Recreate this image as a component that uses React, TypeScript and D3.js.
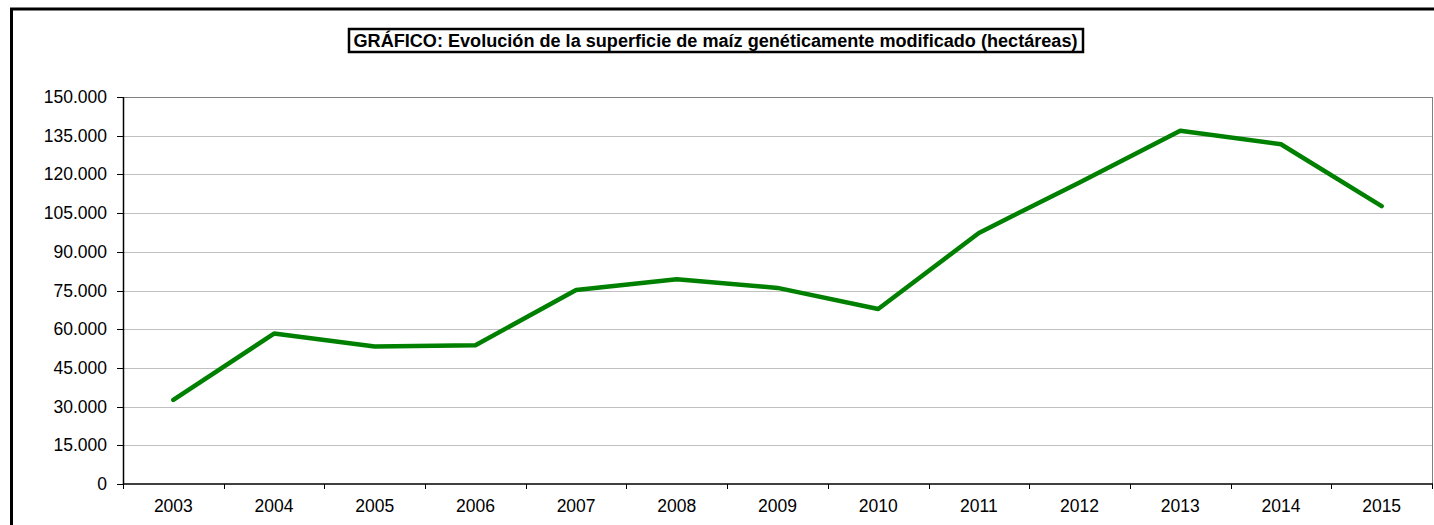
import React from 'react';
import { scaleBand, scaleLinear, line } from 'd3';

const years = ['2003', '2004', '2005', '2006', '2007', '2008', '2009', '2010', '2011', '2012', '2013', '2014', '2015'];
const hectares = [32600, 58300, 53300, 53800, 75200, 79400, 76000, 67800, 97300, 116900, 136900, 131700, 107700];
const yTicks = [0, 15000, 30000, 45000, 60000, 75000, 90000, 105000, 120000, 135000, 150000];

const titleText = 'GRÁFICO: Evolución de la superficie de maíz genéticamente modificado (hectáreas)';

const dims = {
  width: 1434,
  height: 525,
  left: 123,
  right: 1432,
  top: 97,
  bottom: 484
};

const fmt = (v: number) => (v === 0 ? '0' : (v / 1000).toFixed(0) + '.000');

export default function App() {
  const { width, height, left, right, top, bottom } = dims;

  const x = scaleBand<string>()
    .domain(years)
    .range([left, right]);

  const y = scaleLinear()
    .domain([0, 150000])
    .range([bottom, top]);

  const path = line<number>()
    .x((_, i) => (x(years[i]) as number) + x.bandwidth() / 2)
    .y(d => y(d))(hectares);

  const font = 'Liberation Sans, Arial, sans-serif';

  return (
    <svg width={width} height={height} style={{ position: 'absolute', left: 0, top: 0 }} fontFamily={font}>
      <rect x={0} y={0} width={width} height={height} fill="#fff" />
      {/* outer frame */}
      <rect x={11.5} y={9} width={width + 20} height={height + 20} fill="none" stroke="#000" strokeWidth={3} />

      {/* title */}
      <rect x={349} y={29} width={734} height={23} fill="#fff" stroke="#000" strokeWidth={2.5} />
      <text x={715.5} y={46.5} textAnchor="middle" fontSize={18} fontWeight="bold" fill="#000" textLength={724} lengthAdjust="spacingAndGlyphs">{titleText}</text>

      {/* gridlines */}
      {yTicks.slice(1, -1).map(t => (
        <line key={t} x1={left} x2={right} y1={Math.round(y(t)) + 0.5} y2={Math.round(y(t)) + 0.5} stroke="#c0c0c0" strokeWidth={1} />
      ))}

      {/* plot frame */}
      <line x1={left} x2={right} y1={top + 0.5} y2={top + 0.5} stroke="#808080" />
      <line x1={right + 0.5} x2={right + 0.5} y1={top} y2={bottom} stroke="#808080" />
      <line x1={left + 0.5} x2={left + 0.5} y1={top} y2={bottom} stroke="#000" strokeWidth={1.5} />
      <line x1={left} x2={right + 1} y1={bottom} y2={bottom} stroke="#000" strokeWidth={1.5} />

      {/* y axis */}
      {yTicks.map(t => (
        <g key={t}>
          <line x1={left - 6} x2={left} y1={Math.round(y(t)) + 0.5} y2={Math.round(y(t)) + 0.5} stroke="#000" />
          <text x={107} y={y(t) + 6} textAnchor="end" fontSize={17.5} fill="#000">{fmt(t)}</text>
        </g>
      ))}

      {/* x axis */}
      {years.map(yr => (
        <text key={yr} x={(x(yr) as number) + x.bandwidth() / 2} y={512} textAnchor="middle" fontSize={17.5} fill="#000">{yr}</text>
      ))}
      {years.concat(['end']).map((yr, i) => {
        const px = Math.round(left + i * x.bandwidth()) + 0.5;
        return <line key={yr} x1={px} x2={px} y1={bottom} y2={bottom + 5} stroke="#000" />;
      })}

      {/* series */}
      <path d={path as string} fill="none" stroke="#008000" strokeWidth={4.5} strokeLinejoin="round" strokeLinecap="round" />
    </svg>
  );
}
